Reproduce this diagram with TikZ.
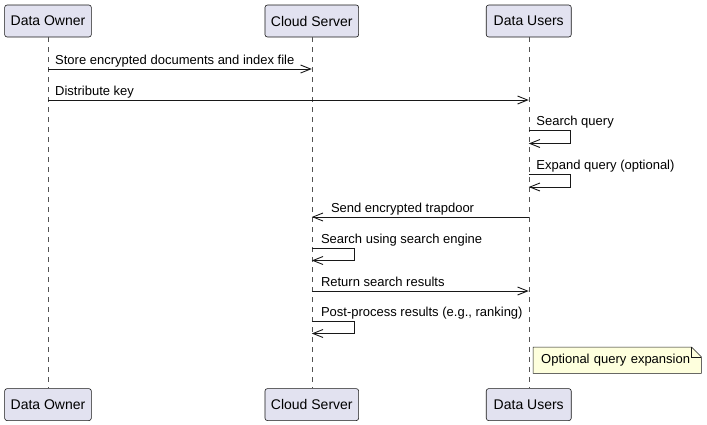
\documentclass[tikz,border=0pt]{standalone}
\usepackage{fontspec}
\setmainfont{Liberation Sans}
\usepackage{xcolor}
\usetikzlibrary{arrows.meta, positioning, backgrounds}
\definecolor{umlline}{RGB}{24, 24, 24}
\definecolor{actorfill}{RGB}{226, 226, 240}
\definecolor{notefill}{RGB}{254, 255, 221}

\begin{document}
\begin{tikzpicture}[
    x=1pt, y=-1pt,
    every node/.style={font=\fontsize{13}{15}\selectfont},
    actor/.style={draw=umlline, fill=actorfill, rounded corners=2.5pt, minimum height=32pt, inner xsep=6pt, line width=0.6pt, font=\fontsize{14}{16}\selectfont},
    lifeline/.style={draw=umlline!75, dash pattern=on 5pt off 5pt, line width=0.5pt},
    msg/.style={-{Straight Barb[length=10pt, width=8pt]}, draw=umlline, line width=0.9pt},
    lbl/.style={anchor=base west, inner sep=0pt},
    notebox/.style={text width=152pt, inner xsep=8pt, minimum height=26pt, anchor=north west, align=left}
]
\useasboundingbox (0,0) rectangle (707,424);

% Participants (top and bottom)
\node[actor] (ownerTop) at (48,21) {Data Owner};
\node[actor, right=173pt of ownerTop] (cloudTop) {Cloud Server};
\node[actor, minimum width=85pt, right=127pt of cloudTop] (usersTop) {Data Users};
\node[actor, below=351pt of ownerTop] (ownerBot) {Data Owner};
\node[actor, below=351pt of cloudTop] (cloudBot) {Cloud Server};
\node[actor, minimum width=85pt, below=351pt of usersTop] (usersBot) {Data Users};

% Lifelines
\draw[lifeline] (ownerTop) -- (ownerBot);
\draw[lifeline] (cloudTop) -- (cloudBot);
\draw[lifeline] (usersTop) -- (usersBot);

% Message levels
\coordinate (y1) at (0,69);
\coordinate (y2) at (0,100);
\coordinate (y3) at (0,130.5);
\coordinate (y4) at (0,174);
\coordinate (y5) at (0,217);
\coordinate (y6) at (0,248);
\coordinate (y7) at (0,291);
\coordinate (y8) at (0,321);

% Messages
\draw[msg] (ownerTop |- y1) -- (cloudTop |- y1);
\node[lbl] (l1) at ([xshift=7pt, yshift=4.5pt]ownerTop |- y1) {Store encrypted documents and index file};

\draw[msg] (ownerTop |- y2) -- (usersTop |- y2);
\node[lbl] (l2) at ([xshift=7pt, yshift=4.5pt]ownerTop |- y2) {Distribute key};

\draw[msg] (usersTop |- y3) -- ++(42,0) -- ++(0,13) -- ++(-42,0);
\node[lbl] (l3) at ([xshift=7.5pt, yshift=5pt]usersTop |- y3) {Search query};

\draw[msg] (usersTop |- y4) -- ++(42,0) -- ++(0,13) -- ++(-42,0);
\node[lbl] (l4) at ([xshift=7.5pt, yshift=5pt]usersTop |- y4) {Expand query (optional)};

\draw[msg] (usersTop |- y5) -- (cloudTop |- y5);
\node[lbl] (l5) at ([xshift=19pt, yshift=5pt]cloudTop |- y5) {Send encrypted trapdoor};

\draw[msg] (cloudTop |- y6) -- ++(43,0) -- ++(0,12.5) -- ++(-43,0);
\node[lbl] (l6) at ([xshift=9pt, yshift=5pt]cloudTop |- y6) {Search using search engine};

\draw[msg] (cloudTop |- y7) -- (usersTop |- y7);
\node[lbl] (l7) at ([xshift=9pt, yshift=5pt]cloudTop |- y7) {Return search results};

\draw[msg] (cloudTop |- y8) -- ++(43,0) -- ++(0,12.5) -- ++(-43,0);
\node[lbl] (l8) at ([xshift=9pt, yshift=5pt]cloudTop |- y8) {Post-process results (e.g., ranking)};

% Note with folded corner
\node[notebox] (note) at (533,347) {Optional query expansion};
\begin{scope}[on background layer]
\draw[draw=umlline, fill=notefill, line width=0.5pt]
    (note.north west) -- ([xshift=-10pt]note.north east) -- ([yshift=-10pt]note.north east)
    -- (note.south east) -- (note.south west) -- cycle;
\draw[draw=umlline, line width=0.5pt]
    ([xshift=-10pt]note.north east) -- ([xshift=-10pt, yshift=-10pt]note.north east) -- ([yshift=-10pt]note.north east);
\end{scope}

\end{tikzpicture}
\end{document}
